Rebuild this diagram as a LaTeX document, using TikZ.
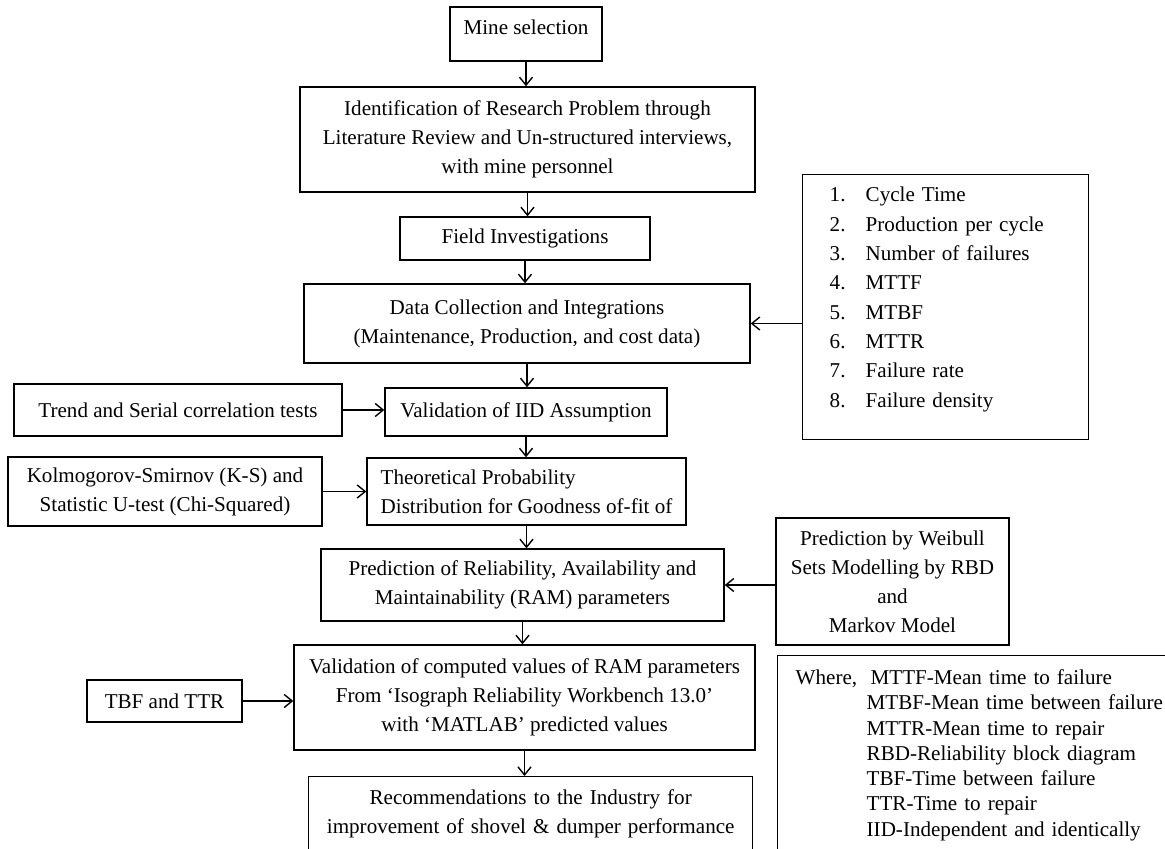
\documentclass[tikz,border=0pt]{standalone}
\usepackage{fontspec}
\setmainfont{Liberation Serif}
\usetikzlibrary{arrows.meta}

\begin{document}
\begin{tikzpicture}[
    stage/.style ={draw, line width=0.8pt, align=center, inner sep=0pt,
                   font=\fontsize{12}{16.5}\selectfont},
    flow/.style  ={line width=0.8pt, -{Straight Barb[length=1.6mm,width=2.6mm]}}]
   \useasboundingbox (0,0) rectangle (23.3,-16.98);
   % main column
   \node[stage, minimum width=3.04cm, minimum height=1.08cm, text depth=8pt] (mine) at (10.52,-0.68) {Mine selection};
   \node[stage, minimum width=9.10cm, minimum height=2.10cm] (ident) at (10.55,-2.79)
        {Identification of Research Problem through\\Literature Review and Un-structured interviews,\\with mine personnel};
   \node[stage, minimum width=5.00cm, minimum height=0.86cm] (field) at (10.50,-4.77) {Field Investigations};
   \node[stage, minimum width=8.92cm, minimum height=1.58cm] (data) at (10.54,-6.47)
        {Data Collection and Integrations\\(Maintenance, Production, and cost data)};
   \node[stage, minimum width=5.64cm, minimum height=0.96cm] (iid) at (10.52,-8.24) {Validation of IID Assumption};
   \node[stage, align=left, minimum width=6.38cm, minimum height=1.34cm] (theo) at (10.53,-9.83)
        {Theoretical Probability\\Distribution for Goodness of-fit of};
   \node[stage, minimum width=8.06cm, minimum height=1.44cm] (pred) at (10.45,-11.70)
        {Prediction of Reliability, Availability and\\Maintainability (RAM) parameters};
   \node[stage, minimum width=9.22cm, minimum height=2.10cm] (valc) at (10.49,-13.95)
        {Validation of computed values of RAM parameters\\From `Isograph Reliability Workbench 13.0'\\with `MATLAB' predicted values};
   \node[stage, anchor=north west, text width=8.88cm, inner ysep=7.2pt, text depth=40pt] (rec) at (6.16,-15.52)
        {Recommendations to the Industry for\\improvement of shovel \& dumper performance};
   % left inputs
   \node[stage, minimum width=6.56cm, minimum height=1.04cm] (trend) at (3.56,-8.20) {Trend and Serial correlation tests};
   \node[stage, minimum width=6.28cm, minimum height=1.38cm] (ks) at (3.30,-9.83)
        {Kolmogorov-Smirnov (K-S) and\\Statistic U-test (Chi-Squared)};
   \node[stage, minimum width=3.10cm, minimum height=0.84cm] (tbf) at (3.29,-14.02) {TBF and TTR};
   % right inputs
   \node[stage, anchor=north west, align=left, text width=4.64cm, inner xsep=0.54cm, inner ysep=3.7pt,
         text depth=131.7pt, font=\fontsize{12}{16.7}\selectfont] (list) at (16.04,-3.48)
        {\begin{tabular}[t]{@{}p{0.72cm}@{}l@{}}
          1. & Cycle Time\\
          2. & Production per cycle\\
          3. & Number of failures\\
          4. & MTTF\\
          5. & MTBF\\
          6. & MTTR\\
          7. & Failure rate\\
          8. & Failure density
         \end{tabular}};
   \node[stage, minimum width=4.66cm, minimum height=2.54cm] (weib) at (17.85,-11.63)
        {Prediction by Weibull\\Sets Modelling by RBD\\and\\Markov Model};
   \node[stage, anchor=north west, align=left, text width=8.6cm, inner xsep=0.36cm, inner ysep=6.5pt,
         text depth=200pt, font=\fontsize{12}{14.35}\selectfont] (where) at (15.54,-13.10)
        {\begin{tabular}[t]{@{}p{1.42cm}@{}l@{}}
          Where, & \hspace{0.08cm}MTTF-Mean time to failure\\
                 & MTBF-Mean time between failure\\
                 & MTTR-Mean time to repair\\
                 & RBD-Reliability block diagram\\
                 & TBF-Time between failure\\
                 & TTR-Time to repair\\
                 & IID-Independent and identically
         \end{tabular}};
   % connectors
   \draw[flow] (mine.south)  -- (mine.south |- ident.north);
   \draw[flow] (ident.south) -- (ident.south |- field.north);
   \draw[flow] (field.south) -- (field.south |- data.north);
   \draw[flow] (data.south)  -- (data.south |- iid.north);
   \draw[flow] (iid.south)   -- (iid.south |- theo.north);
   \draw[flow] (theo.south)  -- (theo.south |- pred.north);
   \draw[flow] (pred.south)  -- (pred.south |- valc.north);
   \draw[flow] (valc.south)  -- (valc.south |- rec.north);
   \draw[flow] (data.east -| list.west) -- (data.east);
   \draw[flow] (trend.east)  -- (trend.east -| iid.west);
   \draw[flow] (ks.east)     -- (ks.east -| theo.west);
   \draw[flow] (pred.east -| weib.west) -- (pred.east);
   \draw[flow] (tbf.east)    -- (tbf.east -| valc.west);
\end{tikzpicture}
\end{document}
